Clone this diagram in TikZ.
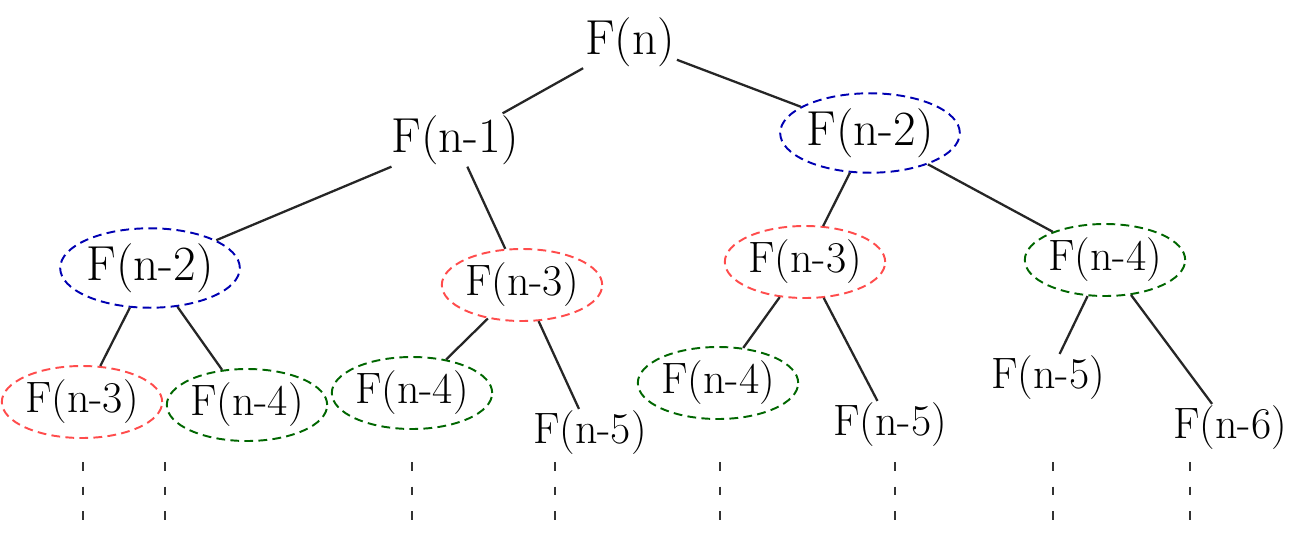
\documentclass[tikz,border=0pt]{standalone}
\usetikzlibrary{shapes.geometric}
\begin{document}
\begin{tikzpicture}[x=0.02cm,y=-0.02cm,
    call/.style={font=\fontsize{28}{32}\selectfont, inner sep=1pt},
    leaf/.style={font=\fontsize{25}{29}\selectfont, inner sep=1pt},
    ring/.style={ellipse, draw, dash pattern=on 5pt off 3pt, line width=1.1pt,
        inner xsep=0pt, inner ysep=2pt},
    twice2/.style={ring, draw=blue!70!black},
    twice3/.style={ring, draw=red!70},
    twice4/.style={ring, draw=green!40!black},
    branch/.style={line width=1.3pt, black!85},
    trail/.style={line width=1.3pt, black!80, dash pattern=on 5pt off 9pt}]
    \useasboundingbox (0,0) rectangle (1299,541);
    % levels 0 and 1
    \node[call] (root) at (630,42) {F(n)};
    \node[call] (a) at (455,140) {F(n-1)};
    \node[call,twice2] (b) at (870,133) {F(n-2)};
    % level 2
    \node[call,twice2] (c) at (150,268) {F(n-2)};
    \node[leaf,twice3] (d) at (522,285) {F(n-3)};
    \node[leaf,twice3] (e) at (805,262) {F(n-3)};
    \node[leaf,twice4] (f) at (1105,260) {F(n-4)};
    % level 3
    \node[leaf,twice3] (g) at (82,402) {F(n-3)};
    \node[leaf,twice4] (h) at (247,405) {F(n-4)};
    \node[leaf,twice4] (i) at (412,393) {F(n-4)};
    \node[leaf] (j) at (590,433) {F(n-5)};
    \node[leaf,twice4] (k) at (718,383) {F(n-4)};
    \node[leaf] (l) at (890,425) {F(n-5)};
    \node[leaf] (m) at (1048,378) {F(n-5)};
    \node[leaf] (o) at (1230,428) {F(n-6)};
    \foreach \p/\q in {root/a,root/b,a/c,a/d,b/e,b/f,c/g,c/h,d/i,d/j,e/k,e/l,f/m,f/o}{
        \draw[branch] (\p) -- (\q);
    }
    % the calls go on below
    \foreach \n/\dx in {g/1,h/-82,i/0,j/-35,k/2,l/5,m/5,o/-40}{
        \path (\n.south) ++(\dx,0) coordinate (t\n);
        \draw[trail] (t\n |- 0,462) -- ++(0,62);
    }
\end{tikzpicture}
\end{document}
